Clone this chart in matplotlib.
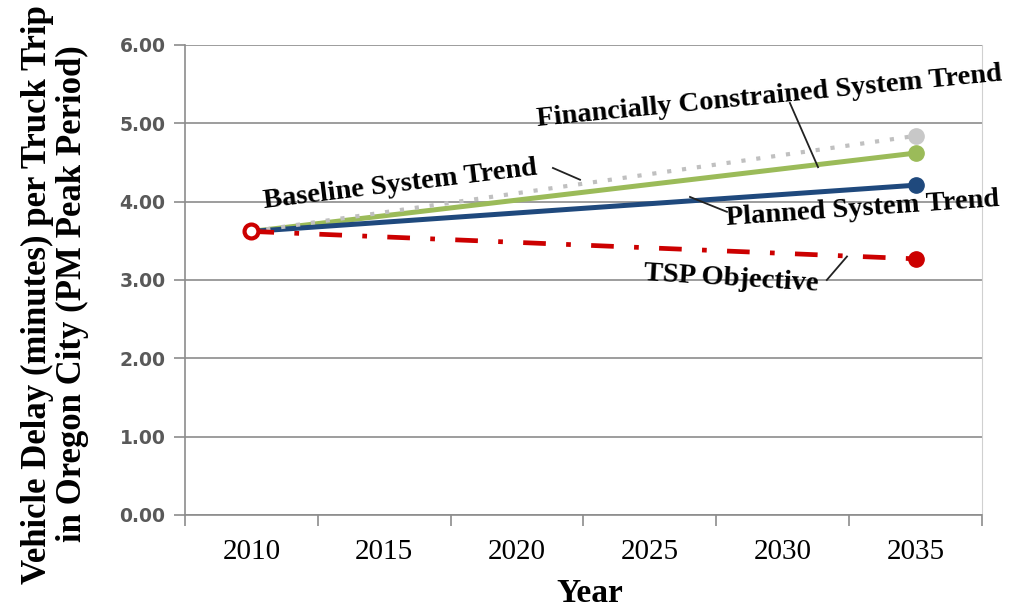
import numpy as np
import matplotlib.pyplot as plt
from matplotlib.ticker import FixedLocator

years = [2010, 2035]
baseline = [3.62, 4.84]
fin_constrained = [3.62, 4.62]
planned = [3.62, 4.21]
tsp_objective = [3.62, 3.27]
year_labels = ['2010', '2015', '2020', '2025', '2030', '2035']

fig = plt.figure(figsize=(10.25, 6.08), dpi=100)
ax = fig.add_axes([0.1805, 0.153, 0.7775, 0.773])

grid_c = '#8c8c8c'
serif = 'Liberation Serif'

# series
ax.plot(years, fin_constrained, color='#9bbb59', lw=3.6, solid_capstyle='butt', zorder=3)
ax.plot(years[1:], fin_constrained[1:], 'o', color='#9bbb59', ms=11, zorder=4)
ax.plot(years, planned, color='#1f497d', lw=3.6, solid_capstyle='butt', zorder=3)
ax.plot(years[1:], planned[1:], 'o', color='#1f497d', ms=11, zorder=4)
ax.plot(years, baseline, color='#c0c0c0', lw=3, linestyle=(0, (1, 2.6)),
        dash_capstyle='butt', zorder=4)
ax.plot(years[1:], baseline[1:], 'o', color='#c8c8c8', ms=11, zorder=4)
ax.plot(years, tsp_objective, color='#cc0000', lw=3.4, linestyle=(0, (4.8, 4.3, 1, 4.3)),
        dash_capstyle='butt', zorder=5)
ax.plot(years[1:], tsp_objective[1:], 'o', color='#cc0000', ms=11, zorder=5)
ax.plot(years[:1], tsp_objective[:1], 'o', mfc='white', mec='#cc0000', mew=3, ms=10, zorder=6)

ax.set_xlim(2007.5, 2037.5)
ax.set_ylim(0, 6)

ax.set_yticks(np.arange(0, 7, 1))
ax.set_yticklabels(['%.2f' % v for v in np.arange(0, 7, 1)], color='#595959',
                   fontsize=13.5, fontweight='bold', family='DejaVu Sans')
ax.tick_params(axis='y', length=8, color=grid_c, width=1.2, pad=6)

ax.set_xticks(years[:1] + [2015, 2020, 2025, 2030, 2035])
ax.set_xticklabels(year_labels, family=serif, fontsize=21)
ax.tick_params(axis='x', which='major', length=0, pad=17)
ax.xaxis.set_minor_locator(FixedLocator(np.arange(2007.5, 2038, 5)))
ax.tick_params(axis='x', which='minor', length=8, color=grid_c, width=1.2)

ax.grid(axis='y', color=grid_c, lw=1.2)
ax.set_axisbelow(True)
ax.spines['top'].set_visible(False)
ax.spines['left'].set_color(grid_c)
ax.spines['left'].set_linewidth(1.2)
ax.spines['bottom'].set_color(grid_c)
ax.spines['bottom'].set_linewidth(1.2)
ax.spines['right'].set_color('#d0d0d0')

ax.set_xlabel('Year', family=serif, fontsize=24, fontweight='bold')
ax.xaxis.set_label_coords(0.508, -0.135)
ax.set_ylabel('Vehicle Delay (minutes) per Truck Trip\nin Oregon City (PM Peak Period)',
              family=serif, fontsize=25, fontweight='bold', linespacing=1.05)
ax.yaxis.set_label_coords(-0.121, 0.47)

# annotations
txt = dict(family=serif, fontsize=20.5, fontweight='bold', fontstyle='normal',
           rotation_mode='anchor', zorder=8)
lead = dict(color='#222222', lw=1.3, zorder=7)
ax.text(2010.5, 3.92, 'Baseline System Trend', rotation=7, **txt)
ax.plot([2021.35, 2022.37], [4.43, 4.28], **lead)
ax.text(2020.75, 4.96, 'Financially Constrained System Trend', rotation=5.6, **txt)
ax.plot([2030.27, 2031.33], [5.26, 4.44], **lead)
ax.text(2027.9, 3.70, 'Planned System Trend', rotation=4, **txt)
ax.plot([2026.51, 2027.9], [4.06, 3.87], **lead)
ax.text(2024.74, 3.0, 'TSP Objective', rotation=-3.5, **txt)
ax.plot([2031.66, 2032.42], [3.0, 3.3], **lead)

fig.savefig('out.png', dpi=100)
